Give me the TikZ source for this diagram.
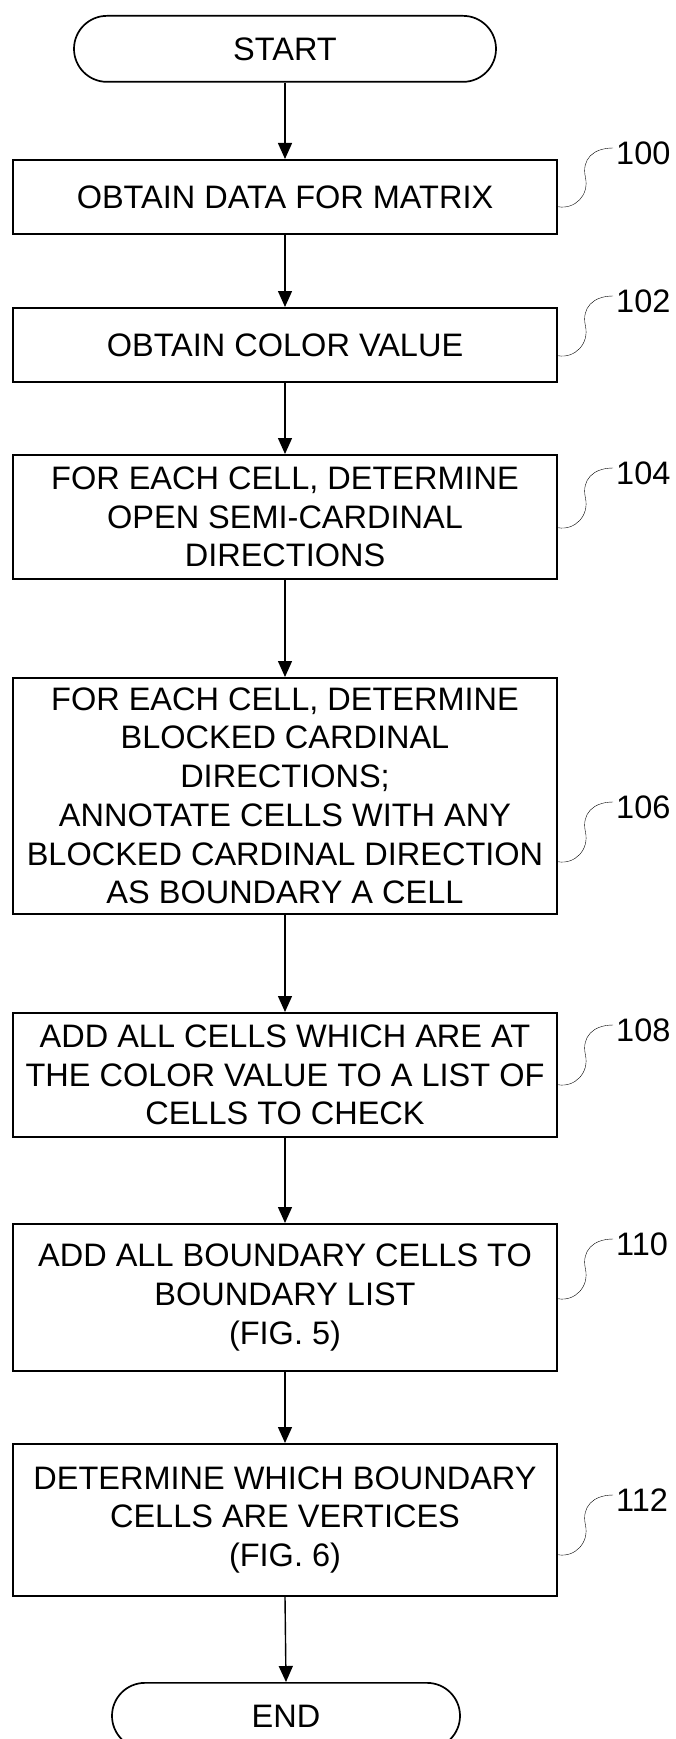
\documentclass[tikz,border=0pt]{standalone}
\usepackage{fontspec}
\setmainfont{Liberation Sans}
\usetikzlibrary{arrows.meta,calc}
\begin{document}
\begin{tikzpicture}[x=1pt,y=-1pt,
  txt/.style={font=\fontsize{32.5}{38.7}\selectfont},
  box/.style={txt, draw, line width=1.7pt, minimum width=544pt, anchor=north, align=center, inner sep=0pt},
  term/.style={txt, draw, line width=1.7pt, rounded corners=33pt, minimum height=66pt, anchor=north, inner sep=0pt},
  lab/.style={txt, anchor=west, inner sep=3pt},
  arr/.style={-{Triangle[length=16pt,width=14pt]}, line width=1.4pt},
  squig/.style={line width=1.4pt, to path={.. controls +(17,3) and +(4,18) .. ($(\tikztostart)!.5!(\tikztotarget)$) .. controls +(-4,-18) and +(-20,0) .. (\tikztotarget)}}
]
\useasboundingbox (0,0) rectangle (675,1739);

\node[term, minimum width=422pt] (start) at (285,15) {START};
\node[box, minimum height=74pt] (b100) at (285,159) {OBTAIN DATA FOR MATRIX};
\node[box, minimum height=74pt] (b102) at (285,307) {OBTAIN COLOR VALUE};
\node[box, minimum height=124pt] (b104) at (285,454) {FOR EACH CELL, DETERMINE\\OPEN SEMI-CARDINAL\\DIRECTIONS};
\node[box, minimum height=236pt] (b106) at (285,677) {FOR EACH CELL, DETERMINE\\BLOCKED CARDINAL\\DIRECTIONS;\\ANNOTATE CELLS WITH ANY\\BLOCKED CARDINAL DIRECTION\\AS BOUNDARY A CELL};
\node[box, minimum height=124pt] (b108) at (285,1012) {ADD ALL CELLS WHICH ARE AT\\THE COLOR VALUE TO A LIST OF\\CELLS TO CHECK};
\node[box, minimum height=147pt] (b110) at (285,1223) {ADD ALL BOUNDARY CELLS TO\\BOUNDARY LIST\\(FIG. 5)};
\node[box, minimum height=152pt] (b112) at (285,1443) {DETERMINE WHICH BOUNDARY\\CELLS ARE VERTICES\\(FIG. 6)};
\node[term, minimum width=348pt] (end) at (286,1682) {END};

\draw[arr] (start.south) -- (b100.north);
\draw[arr] (b100.south) -- (b102.north);
\draw[arr] (b102.south) -- (b104.north);
\draw[arr] (b104.south) -- (b106.north);
\draw[arr] (b106.south) -- (b108.north);
\draw[arr] (b108.south) -- (b110.north);
\draw[arr] (b110.south) -- (b112.north);
\draw[arr] (b112.south) -- (end.north);

\node[lab] (l100) at (613,153) {100};
\node[lab] (l102) at (613,301) {102};
\node[lab] (l104) at (613,473) {104};
\node[lab] (l106) at (613,807) {106};
\node[lab] (l108) at (613,1030) {108};
\node[lab] (l110) at (613,1244) {110};
\node[lab] (l112) at (613,1500) {112};

\coordinate (s100) at ([yshift=28pt]b100.south east);
\coordinate (s102) at ([yshift=27pt]b102.south east);
\coordinate (s104) at ([yshift=52pt]b104.south east);
\coordinate (s106) at ([yshift=53pt]b106.south east);
\coordinate (s108) at ([yshift=53pt]b108.south east);
\coordinate (s110) at ([yshift=73pt]b110.south east);
\coordinate (s112) at ([yshift=42pt]b112.south east);

\draw (s100) to[squig] ([yshift=5pt]l100.west);
\draw (s102) to[squig] ([yshift=5pt]l102.west);
\draw (s104) to[squig] ([yshift=5pt]l104.west);
\draw (s106) to[squig] ([yshift=5pt]l106.west);
\draw (s108) to[squig] ([yshift=5pt]l108.west);
\draw (s110) to[squig] ([yshift=5pt]l110.west);
\draw (s112) to[squig] ([yshift=5pt]l112.west);
\end{tikzpicture}
\end{document}
